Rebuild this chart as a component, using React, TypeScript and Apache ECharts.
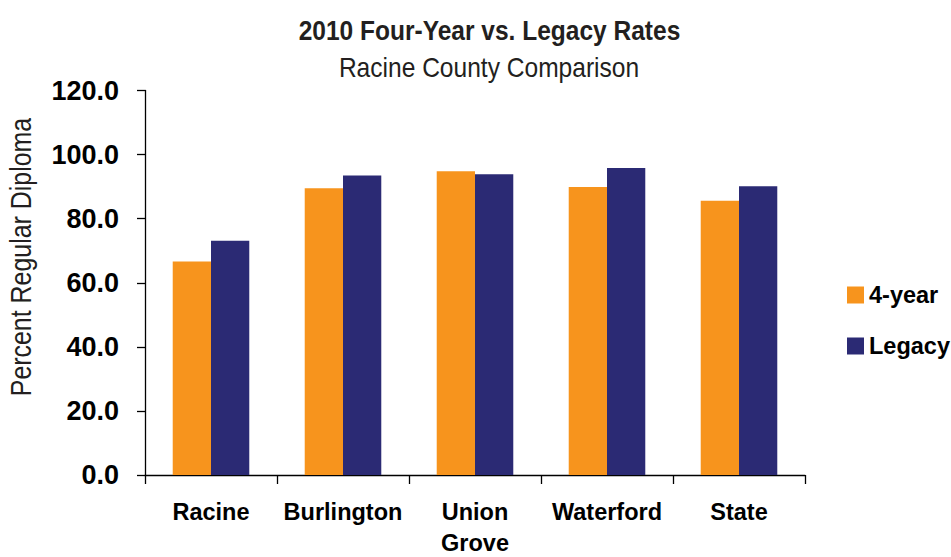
import React, { useEffect, useRef } from "react";
import * as echarts from "echarts";

const categories = ["Racine", "Burlington", "Union\nGrove", "Waterford", "State"];
const fourYear = [66.6, 89.5, 94.8, 89.9, 85.6];
const legacy = [73.1, 93.5, 93.9, 95.8, 90.1];
const seriesNames = ["4-year", "Legacy"];
const titleText = "2010 Four-Year vs. Legacy Rates";
const subtitleText = "Racine County Comparison";
const yAxisName = "Percent Regular Diploma";

const FONT = "'Liberation Sans', Arial, sans-serif";

export default function App() {
  const ref = useRef<HTMLDivElement>(null);
  useEffect(() => {
    if (!ref.current) return;
    const chart = echarts.init(ref.current, undefined, { renderer: "svg" });
    chart.setOption({
      animation: false,
      backgroundColor: "#ffffff",
      graphic: [
        {
          type: "text",
          x: 489.5,
          y: 30.5,
          scaleX: 0.876,
          style: {
            text: titleText,
            fontFamily: FONT,
            fontWeight: "bold",
            fontSize: 28,
            fill: "#231f20",
            align: "center",
            verticalAlign: "middle",
          },
        },
        {
          type: "text",
          x: 489,
          y: 67.5,
          scaleX: 0.91,
          style: {
            text: subtitleText,
            fontFamily: FONT,
            fontSize: 27,
            fill: "#231f20",
            align: "center",
            verticalAlign: "middle",
          },
        },
        {
          type: "text",
          x: 21,
          y: 257,
          rotation: Math.PI / 2,
          scaleX: 0.86,
          style: {
            text: yAxisName,
            fontFamily: FONT,
            fontSize: 29,
            fill: "#231f20",
            align: "center",
            verticalAlign: "middle",
          },
        },
      ],
      legend: {
        orient: "vertical",
        left: 847,
        top: 283,
        padding: 0,
        itemWidth: 17,
        itemHeight: 17,
        itemGap: 27,
        icon: "rect",
        textStyle: { fontFamily: FONT, fontWeight: "bold", fontSize: 23.5, color: "#000" },
        data: seriesNames,
      },
      grid: {
        left: 145,
        right: 146,
        top: 90.5,
        bottom: 82,
        containLabel: false,
        outerBoundsMode: "none",
      },
      xAxis: {
        type: "category",
        data: categories,
        axisLine: { lineStyle: { color: "#000", width: 1.3 } },
        axisTick: { show: true, length: 9, lineStyle: { color: "#000", width: 1.3 } },
        axisLabel: {
          interval: 0,
          margin: 21,
          fontFamily: FONT,
          fontWeight: "bold",
          fontSize: 23.5,
          lineHeight: 31,
          color: "#000",
        },
      },
      yAxis: {
        type: "value",
        min: 0,
        max: 120,
        interval: 20,
        axisLine: { show: true, lineStyle: { color: "#000", width: 1.3 } },
        axisTick: { show: true, length: 8, lineStyle: { color: "#000", width: 1.3 } },
        splitLine: { show: false },
        axisLabel: {
          margin: 26,
          fontFamily: FONT,
          fontWeight: "bold",
          fontSize: 27,
          color: "#000",
          formatter: (v: number) => v.toFixed(1),
        },
      },
      series: [
        {
          name: seriesNames[0],
          type: "bar",
          data: fourYear,
          barGap: "0%",
          barCategoryGap: "42%",
          itemStyle: { color: "#F7941D" },
        },
        {
          name: seriesNames[1],
          type: "bar",
          data: legacy,
          itemStyle: { color: "#2B2A74" },
        },
      ],
    });
    return () => chart.dispose();
  }, []);
  return <div ref={ref} style={{ width: 951, height: 557, position: "absolute", left: 0, top: 0 }} />;
}
